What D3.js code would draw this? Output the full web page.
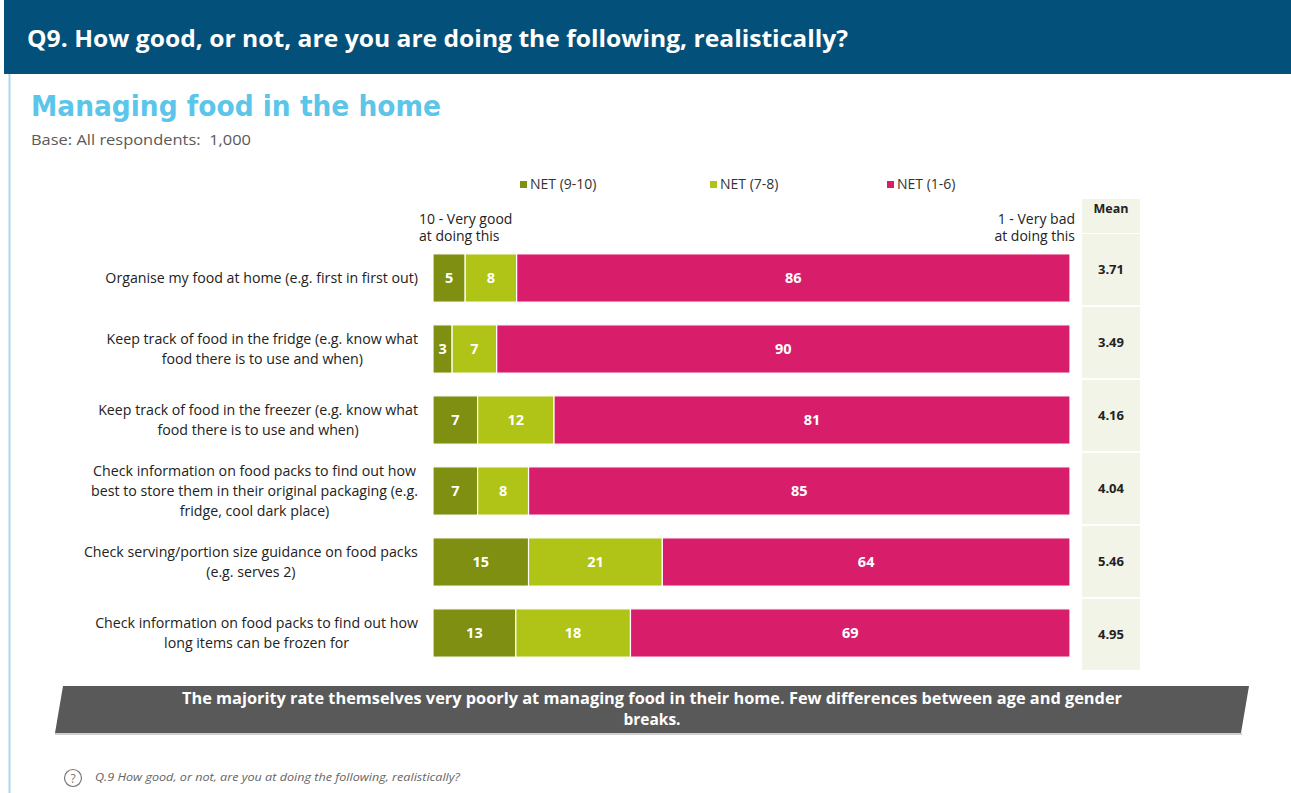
<!DOCTYPE html>
<html>
<head>
<meta charset="utf-8">
<script src="https://cdn.jsdelivr.net/npm/d3@7"></script>
<style>
  html, body { margin: 0; padding: 0; background: #ffffff; }
  svg { display: block; }
  text { font-family: "Open Sans", Lato, sans-serif; }
</style>
</head>
<body>
<svg id="chart" width="1291" height="793"></svg>
<script>
// Survey statements (each one a row) and the share of respondents per score band
const statements = [
  ["Organise my food at home (e.g. first in first out)"],
  ["Keep track of food in the fridge (e.g. know what", "food there is to use and when)"],
  ["Keep track of food in the freezer (e.g. know what", "food there is to use and when)"],
  ["Check information on food packs to find out how", "best to store them in their original packaging (e.g.", "fridge, cool dark place)"],
  ["Check serving/portion size guidance on food packs", "(e.g. serves 2)"],
  ["Check information on food packs to find out how", "long items can be frozen for"]
];
const seriesNames = ["NET (9-10)", "NET (7-8)", "NET (1-6)"];
const net9to10 = [5, 3, 7, 7, 15, 13];
const net7to8  = [8, 7, 12, 8, 21, 18];
const net1to6  = [86, 90, 81, 85, 64, 69];
const means    = ["3.71", "3.49", "4.16", "4.04", "5.46", "4.95"];
const colors   = ["#7e8f12", "#b0c417", "#d81e6b"];

const svg = d3.select("#chart");

// Page header
svg.append("rect").attr("x", 4).attr("y", 0).attr("width", 1287).attr("height", 74).attr("fill", "#03507a");
svg.append("text").attr("x", 27).attr("y", 47)
  .attr("fill", "#ffffff").attr("font-size", 22.5).attr("font-weight", 700)
  .attr("textLength", 821).attr("lengthAdjust", "spacingAndGlyphs")
  .text("Q9. How good, or not, are you are doing the following, realistically?");

// Left accent rule
svg.append("line").attr("x1", 9.5).attr("x2", 9.5).attr("y1", 74).attr("y2", 793)
  .attr("stroke", "#a9d9ec").attr("stroke-width", 2);

// Titles
svg.append("text").attr("x", 31).attr("y", 116)
  .attr("fill", "#5bc5ea").attr("font-size", 29).attr("font-weight", 700)
  .style("font-family", "'DejaVu Sans', sans-serif")
  .attr("textLength", 410).attr("lengthAdjust", "spacingAndGlyphs")
  .text("Managing food in the home");
svg.append("text").attr("x", 31).attr("y", 145)
  .attr("fill", "#595959").attr("font-size", 15)
  .attr("xml:space", "preserve")
  .attr("textLength", 220).attr("lengthAdjust", "spacingAndGlyphs")
  .text("Base: All respondents:  1,000");

// Stack the bands per row, expressed as shares of the row total
const rows = statements.map((s, i) => ({
  key: i, "NET (9-10)": net9to10[i], "NET (7-8)": net7to8[i], "NET (1-6)": net1to6[i]
}));
const stacked = d3.stack().keys(seriesNames).offset(d3.stackOffsetExpand)(rows);

const x = d3.scaleLinear().domain([0, 1]).range([433, 1070]);
const y = d3.scaleBand().domain(d3.range(statements.length)).range([242.5, 668.5])
  .paddingInner(0.32).paddingOuter(0.16);
const color = d3.scaleOrdinal().domain(seriesNames).range(colors);

// Legend
const legendX = [520, 710, 887];
const legend = svg.append("g").selectAll("g").data(seriesNames).join("g")
  .attr("transform", (d, i) => `translate(${legendX[i]},181)`);
legend.append("rect").attr("width", 7).attr("height", 7).attr("fill", d => color(d));
legend.append("text").attr("x", 10).attr("y", 8).attr("font-size", 14)
  .attr("fill", "#333333").text(d => d);

// Scale end annotations
const endNotes = svg.append("g").attr("font-size", 14).attr("fill", "#222222");
endNotes.append("text").attr("x", 419).attr("y", 224).text("10 - Very good");
endNotes.append("text").attr("x", 419).attr("y", 241).text("at doing this");
endNotes.append("text").attr("x", 1075).attr("y", 224).attr("text-anchor", "end").text("1 - Very bad");
endNotes.append("text").attr("x", 1075).attr("y", 241).attr("text-anchor", "end").text("at doing this");

// Bars
const layers = svg.append("g").selectAll("g").data(stacked).join("g")
  .attr("fill", d => color(d.key));
layers.selectAll("rect").data(d => d).join("rect")
  .attr("x", d => x(d[0]))
  .attr("y", d => y(d.data.key))
  .attr("width", d => x(d[1]) - x(d[0]))
  .attr("height", y.bandwidth())
  .attr("stroke", "#ffffff").attr("stroke-width", 1.2);

// Segment value labels
const valueSets = [net9to10, net7to8, net1to6];
layers.each(function(layer, li) {
  d3.select(this).selectAll("text").data(layer).join("text")
    .attr("x", d => (x(d[0]) + x(d[1])) / 2)
    .attr("y", d => y(d.data.key) + y.bandwidth() / 2 + 5)
    .attr("text-anchor", "middle").attr("fill", "#ffffff")
    .attr("font-size", 14.5).attr("font-weight", 700)
    .text((d, i) => valueSets[li][i]);
});

// Row labels: block right-aligned to the bars, each line centred within it
const labels = svg.append("g").selectAll("text").data(statements).join("text")
  .attr("text-anchor", "middle").attr("font-size", 14.2).attr("fill", "#222222")
  .attr("transform", (d, i) => {
    const cy = y(i) + y.bandwidth() / 2;
    const top = cy - (d.length - 1) * 10 + 5;
    return `translate(0,${top})`;
  });
labels.each(function(lines) {
  const t = d3.select(this);
  lines.forEach((line, j) => {
    t.append("tspan").attr("x", 0).attr("y", j * 20).text(line);
  });
  const bb = this.getBBox();
  t.selectAll("tspan").attr("x", 418 - bb.width / 2);
});

// Mean column
const yMean = d3.scaleBand().domain(d3.range(statements.length)).range([234, 670]).paddingInner(0.025);
svg.append("rect").attr("x", 1082).attr("y", 199).attr("width", 58).attr("height", 34).attr("fill", "#f2f4e8");
svg.append("text").attr("x", 1111).attr("y", 213).attr("text-anchor", "middle")
  .attr("font-size", 12.5).attr("font-weight", 700).attr("fill", "#222222").text("Mean");
const meanG = svg.append("g");
meanG.selectAll("rect").data(means).join("rect")
  .attr("x", 1082).attr("width", 58)
  .attr("y", (d, i) => yMean(i)).attr("height", yMean.bandwidth())
  .attr("fill", "#f2f4e8");
meanG.selectAll("text").data(means).join("text")
  .attr("x", 1111).attr("y", (d, i) => yMean(i) + yMean.bandwidth() / 2 + 4.5)
  .attr("text-anchor", "middle").attr("font-size", 13).attr("font-weight", 700)
  .attr("fill", "#222222").text(d => d);

// Summary banner
svg.append("line").attr("x1", 55).attr("x2", 1242).attr("y1", 734).attr("y2", 734)
  .attr("stroke", "#cfcfcf").attr("stroke-width", 2);
svg.append("path").attr("d", "M63,686 L1249,686 L1241,733 L55,733 Z").attr("fill", "#595959");
const banner = svg.append("g").attr("font-size", 15.5).attr("font-weight", 700)
  .attr("fill", "#ffffff").attr("text-anchor", "middle");
banner.append("text").attr("x", 652).attr("y", 704)
  .attr("textLength", 940).attr("lengthAdjust", "spacingAndGlyphs")
  .text("The majority rate themselves very poorly at managing food in their home. Few differences between age and gender");
banner.append("text").attr("x", 652).attr("y", 725).text("breaks.");

// Footnote
svg.append("circle").attr("cx", 73).attr("cy", 778).attr("r", 8.5)
  .attr("fill", "none").attr("stroke", "#777777").attr("stroke-width", 1.2);
svg.append("text").attr("x", 73).attr("y", 782.5).attr("text-anchor", "middle")
  .attr("font-size", 12).attr("fill", "#777777").text("?");
svg.append("text").attr("x", 95).attr("y", 781).attr("font-size", 10.5)
  .attr("font-style", "italic").attr("fill", "#666666")
  .attr("textLength", 365).attr("lengthAdjust", "spacingAndGlyphs")
  .text("Q.9 How good, or not, are you at doing the following, realistically?");
</script>
</body>
</html>
